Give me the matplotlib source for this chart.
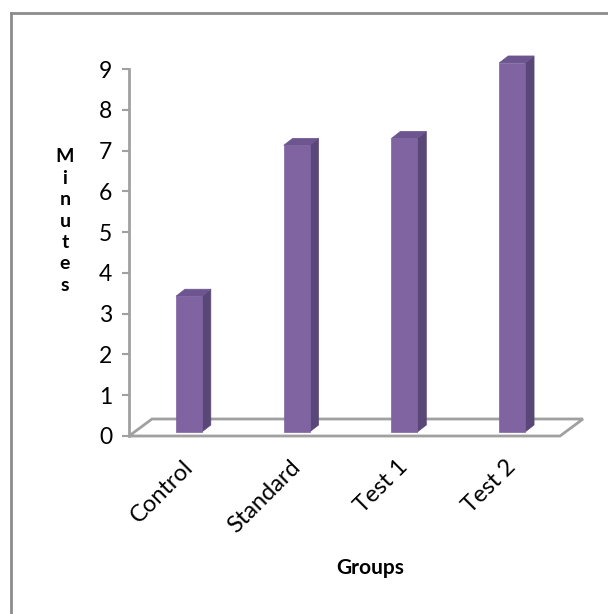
import matplotlib
matplotlib.use("Agg")
import matplotlib.pyplot as plt
from matplotlib.patches import Polygon
from matplotlib.lines import Line2D
from matplotlib.transforms import IdentityTransform

# Data
groups = ["Control", "Standard", "Test 1", "Test 2"]
minutes = [3.33, 7.03, 7.2, 9.05]
yticks = list(range(0, 10))

FONT = "Lato"
plt.rcParams["font.family"] = [FONT, "DejaVu Sans"]

W, H = 608, 614
fig = plt.figure(figsize=(W / 100, H / 100), dpi=100)
ax = fig.add_axes([129 / W, (H - 436) / H, (560 - 129) / W, (436 - 69) / H])
ax.set_xlim(0, len(groups))
ax.set_ylim(0, 9)

grey = "#a0a0a0"
for s in ["top", "right", "bottom"]:
    ax.spines[s].set_visible(False)
ax.spines["left"].set_color(grey)
ax.spines["left"].set_linewidth(2)
ax.set_yticks(yticks)
ax.set_yticklabels([str(t) for t in yticks], fontsize=16.5, color="black")
ax.tick_params(axis="y", direction="out", length=5, width=1.5, color=grey, pad=7)
ax.set_xticks([i + 0.5 for i in range(len(groups))])
ax.set_xticklabels([])
ax.tick_params(axis="x", length=0)
ax.patch.set_alpha(0)

fig.canvas.draw()
T = ax.transData
ident = IdentityTransform()

# 3D offsets in pixels (right, up)
floor_d = (23, 17)
bar_shift = (6, 4)
bar_d = (9, 7)

# floor
p0 = T.transform((0, 0))
p1 = T.transform((len(groups), 0))
floor = [p0, p1, (p1[0] + floor_d[0], p1[1] + floor_d[1]),
         (p0[0] + floor_d[0], p0[1] + floor_d[1])]
ax.add_patch(Polygon(floor, closed=True, facecolor="white", edgecolor=grey,
                     linewidth=2, transform=ident, clip_on=False, zorder=1))

front_c = "#8064a2"
side_c = "#594777"
top_c = "#6d5690"
bw = 0.24
for i, v in enumerate(minutes):
    xl = T.transform((i + 0.5 - bw / 2, 0))
    xr = T.transform((i + 0.5 + bw / 2, v))
    x0, y0 = xl[0] + bar_shift[0], xl[1] + bar_shift[1]
    x1, y1 = xr[0] + bar_shift[0], xr[1] + bar_shift[1]
    dx, dy = bar_d
    front = [(x0, y0), (x1, y0), (x1, y1), (x0, y1)]
    side = [(x1, y0), (x1 + dx, y0 + dy), (x1 + dx, y1 + dy), (x1, y1)]
    top = [(x0, y1), (x1, y1), (x1 + dx, y1 + dy), (x0 + dx, y1 + dy)]
    for pts, c in [(side, side_c), (top, top_c), (front, front_c)]:
        ax.add_patch(Polygon(pts, closed=True, facecolor=c, edgecolor=c,
                             linewidth=0.5, transform=ident, clip_on=False,
                             zorder=3))

# category labels
for i, g in enumerate(groups):
    px, py = T.transform((i + 0.5, 0))
    fig.text((px - 1) / W, (py - 20) / H, g, rotation=45, ha="right",
             va="top", rotation_mode="anchor", fontsize=17)

# axis titles
fig.text(65 / W, (H - 221) / H, "M\ni\nn\nu\nt\ne\ns",
         ha="center", va="center", fontsize=14, fontweight="bold",
         linespacing=1.31)
fig.text(370 / W, (H - 568) / H, "Groups", ha="center", va="center",
         fontsize=15, fontweight="bold")

# outer frame
fig.add_artist(Line2D([11 / W, 11 / W], [0, (H - 13) / H], color="#8c8c8c",
                      linewidth=2, transform=fig.transFigure))
fig.add_artist(Line2D([11 / W, 1], [(H - 13) / H, (H - 13) / H],
                      color="#8c8c8c", linewidth=2, transform=fig.transFigure))

fig.savefig("out.png", dpi=100)
